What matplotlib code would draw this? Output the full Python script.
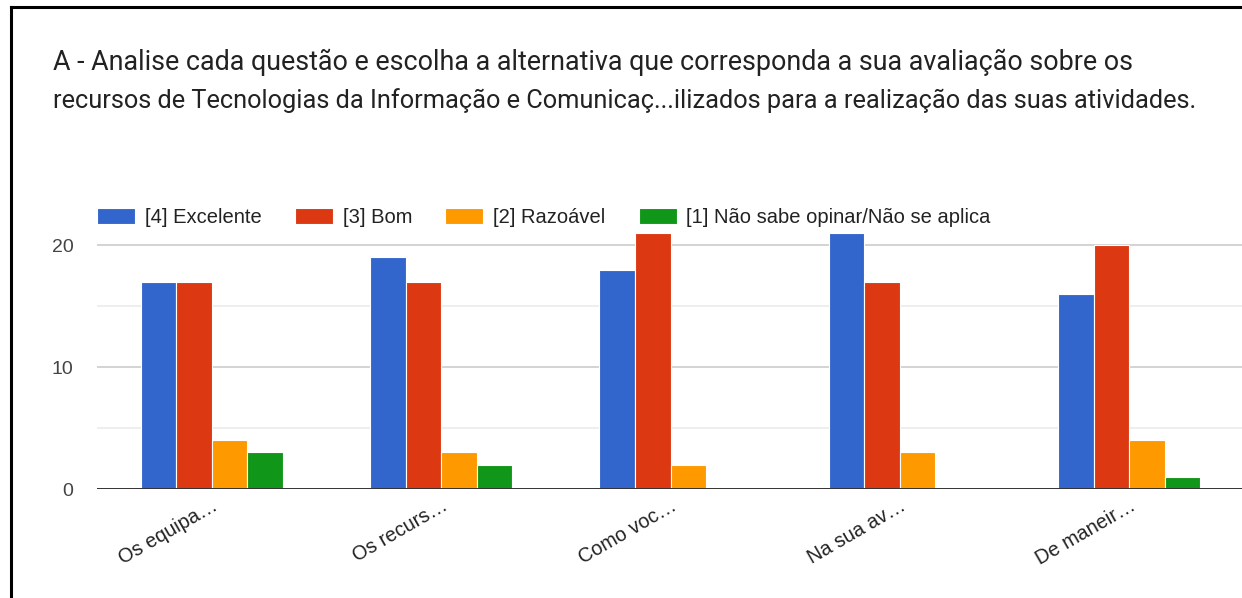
import numpy as np
import matplotlib
matplotlib.use("Agg")
import matplotlib.pyplot as plt
from matplotlib.lines import Line2D

categories = ["Os equipa…", "Os recurs…", "Como voc…", "Na sua av…", "De maneir…"]
series_names = ["[4] Excelente", "[3] Bom", "[2] Razoável", "[1] Não sabe opinar/Não se aplica"]
excelente = [17, 19, 18, 21, 16]
bom = [17, 17, 21, 17, 20]
razoavel = [4, 3, 2, 3, 4]
nao_sabe = [3, 2, 0, 0, 1]
series_colors = ["#3366cc", "#dc3912", "#ff9900", "#109618"]
title_lines = ["A - Analise cada questão e escolha a alternativa que corresponda a sua avaliação sobre os",
               "recursos de Tecnologias da Informação e Comunicaç...ilizados para a realização das suas atividades."]

W, H = 1242, 598
fig = plt.figure(figsize=(W / 100, H / 100), dpi=100)
fig.patch.set_facecolor("white")

# axes placement in pixels: left, bottom(zero line), right, top
x0, x1 = 97, 1244
y_zero, y_top = 489, 233
ax = fig.add_axes([x0 / W, (H - y_zero) / H, (x1 - x0) / W, (y_zero - y_top) / H])
ax.set_facecolor("none")

values = [excelente, bom, razoavel, nao_sabe]
n = len(categories)
x = np.arange(n)
bw = 0.155
for i, (vals, name, col) in enumerate(zip(values, series_names, series_colors)):
    offs = (i - 1.5) * bw
    ax.bar(x + offs, vals, width=bw, color=col, edgecolor="white", linewidth=0.8,
           label=name, zorder=3)

ax.set_xlim(-0.5, n - 0.5)
ax.set_ylim(0, 21)
ax.set_yticks([0, 10, 20])
ax.set_yticks([5, 15], minor=True)
ax.grid(axis="y", which="major", color="#cccccc", linewidth=1.2, zorder=0)
ax.grid(axis="y", which="minor", color="#ebebeb", linewidth=1.2, zorder=0)
ax.axhline(0, color="#333333", linewidth=1.4, zorder=4)
for s in ax.spines.values():
    s.set_visible(False)
ax.tick_params(axis="y", which="both", length=0, pad=17, labelsize=14, labelcolor="#444444")
ax.tick_params(axis="x", length=0, pad=5)
ax.set_xticks(x)
ax.set_xticklabels(categories, rotation=30, ha="right", rotation_mode="anchor",
                   fontsize=14.3, color="#222222")
for lbl in ax.get_yticklabels() + ax.get_xticklabels():
    lbl.set_fontfamily("Liberation Sans")

fs_leg = 14.5
fs_px = fs_leg * 100 / 72
leg = ax.legend(ncol=4, loc="lower left", bbox_to_anchor=(0, 1.0 + 6 / (y_zero - y_top)),
                frameon=False, prop={"family": "Liberation Sans", "size": fs_leg},
                handlelength=38 / fs_px, handleheight=16 / fs_px, handletextpad=10 / fs_px,
                columnspacing=33 / fs_px, borderaxespad=0.0, borderpad=0.0)
for t in leg.get_texts():
    t.set_color("#222222")

# two-line heading
for line, base_y, size in zip(title_lines, [70, 108], [19.35, 18.3]):
    fig.text(53 / W, 1 - base_y / H, line, fontsize=size, family="Roboto", color="#222222",
             va="baseline", ha="left")

# frame lines on the left and top
fig.add_artist(Line2D([11 / W, 11 / W], [0, 1 - 7 / H], color="black", linewidth=2.2,
                      transform=fig.transFigure))
fig.add_artist(Line2D([11 / W, 1], [1 - 7 / H, 1 - 7 / H], color="black", linewidth=2.2,
                      transform=fig.transFigure))

fig.savefig("out.png", dpi=100, facecolor="white")
